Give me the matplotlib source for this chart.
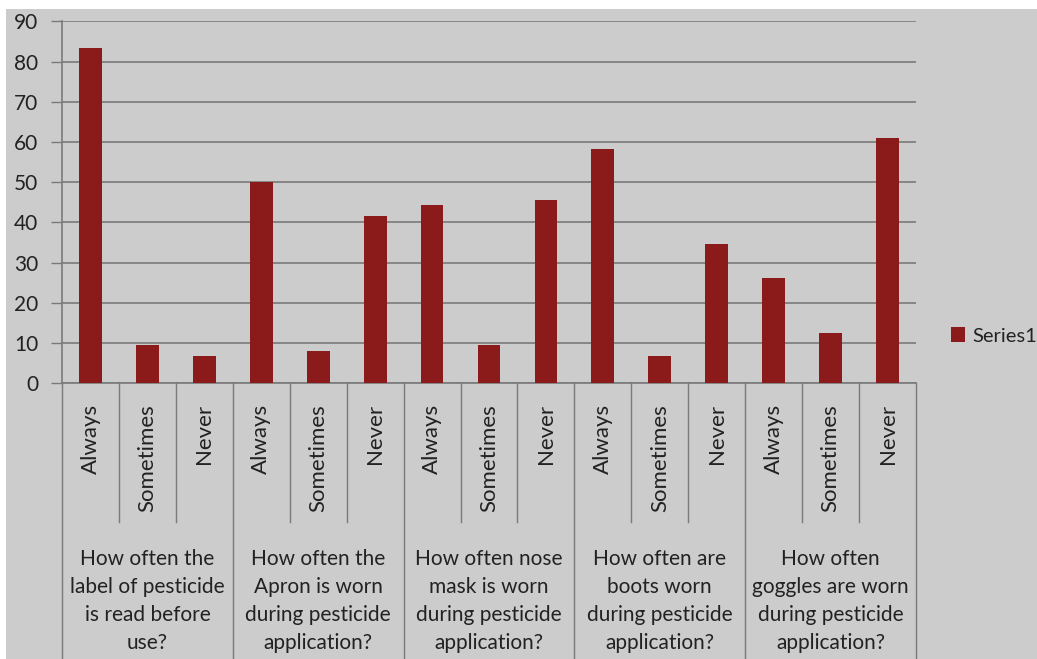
import matplotlib
matplotlib.use("Agg")
import matplotlib.pyplot as plt
import matplotlib.transforms as mtransforms
from matplotlib.patches import Rectangle

questions = [
    "How often the\nlabel of pesticide\nis read before\nuse?",
    "How often the\nApron is worn\nduring pesticide\napplication?",
    "How often nose\nmask is worn\nduring pesticide\napplication?",
    "How often are\nboots worn\nduring pesticide\napplication?",
    "How often\ngoggles are worn\nduring pesticide\napplication?",
]
answers = ["Always", "Sometimes", "Never"]
series1 = [83.3, 9.4, 6.8,
           50.0, 8.1, 41.6,
           44.3, 9.4, 45.6,
           58.2, 6.8, 34.6,
           26.2, 12.4, 61.0]
yticks = [0, 10, 20, 30, 40, 50, 60, 70, 80, 90]

W, H = 1037, 659
bg = "#cccccc"
bar_color = "#8b1a1a"
line_color = "#7a7a7a"
text_color = "#222222"
plt.rcParams["font.family"] = ["Lato", "DejaVu Sans"]

fig = plt.figure(figsize=(W / 100, H / 100), dpi=100)
fig.patch.set_facecolor("white")
fig.patches.append(Rectangle((6 / W, 0), 1 - 6 / W, 1 - 9 / H,
                             transform=fig.transFigure, facecolor=bg,
                             edgecolor="none", zorder=-10))

def fy(p):
    # pixel row -> figure fraction
    return 1 - p / H

ax = fig.add_axes([62 / W, fy(383.3), (916 - 62) / W, (383.3 - 21.3) / H])
ax.set_facecolor(bg)

x = list(range(len(series1)))
ax.bar(x, series1, width=0.4, color=bar_color, label="Series1", zorder=3)

ax.set_xlim(-0.5, len(series1) - 0.5)
ax.set_ylim(0, 90)
ax.set_yticks(yticks)
ax.yaxis.grid(True, color=line_color, linewidth=1.2)
ax.set_axisbelow(True)
ax.tick_params(axis="y", length=8, width=1, color=line_color, pad=9,
               labelsize=15, labelcolor=text_color)
ax.tick_params(axis="x", length=0, labelbottom=False)
for side in ["top", "right"]:
    ax.spines[side].set_visible(False)
ax.spines["left"].set_color(line_color)
ax.spines["bottom"].set_color(line_color)
ax.spines["left"].set_linewidth(1.2)
ax.spines["bottom"].set_linewidth(1.2)

trans = mtransforms.blended_transform_factory(ax.transData, fig.transFigure)
n = len(answers)
for i in range(len(series1)):
    ax.text(i, fy(404), answers[i % n], rotation=90, ha="center", va="top",
            fontsize=16, color=text_color, transform=trans)
# separators inside each group
for g in range(len(questions)):
    for k in range(1, n):
        xs = g * n + k - 0.5
        ax.plot([xs, xs], [fy(383.3), fy(521.7)], color=line_color,
                linewidth=1, transform=trans, clip_on=False)
# group separators
for g in range(len(questions) + 1):
    xs = g * n - 0.5
    ax.plot([xs, xs], [fy(383.3), 0], color=line_color, linewidth=1,
            transform=trans, clip_on=False)
for g, q in enumerate(questions):
    ax.text(g * n + (n - 1) / 2, fy(549), q, ha="center", va="top",
            fontsize=15, color=text_color, linespacing=1.5,
            transform=trans)

ax.legend(loc="center left", bbox_to_anchor=(951 / W, fy(336)),
          bbox_transform=fig.transFigure, frameon=False, fontsize=14.5,
          handlelength=0.7, handleheight=0.7, handletextpad=0.35,
          labelcolor=text_color, borderaxespad=0, borderpad=0)

fig.savefig("out.png", dpi=100, facecolor=fig.get_facecolor())
